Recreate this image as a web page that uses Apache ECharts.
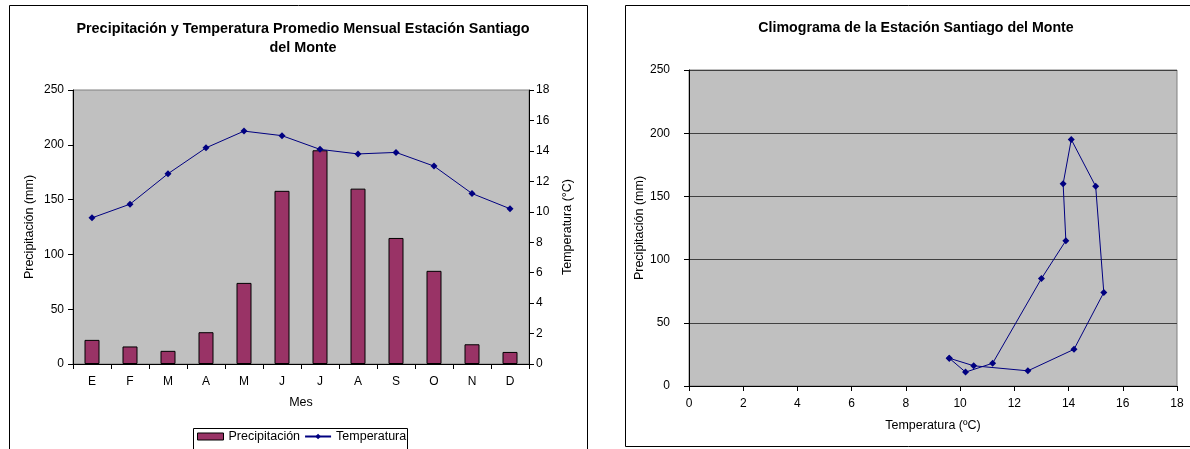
<!DOCTYPE html>
<html>
<head>
<meta charset="utf-8">
<script src="https://cdn.jsdelivr.net/npm/echarts@6/dist/echarts.min.js"></script>
<style>
  html, body { margin: 0; padding: 0; background: #fff; }
  #chart { width: 1190px; height: 449px; }
</style>
</head>
<body>
<div id="chart"></div>
<script>
// Monthly climate data, Santiago del Monte station
const meses = ['E', 'F', 'M', 'A', 'M', 'J', 'J', 'A', 'S', 'O', 'N', 'D'];
const precipitacion = [22, 16, 12, 29, 74, 158, 195, 160, 115, 85, 18, 11];
const temperatura = [9.6, 10.5, 12.5, 14.2, 15.3, 15.0, 14.1, 13.8, 13.9, 13.0, 11.2, 10.2];

// Climograph path: one point per month, closed back to January
const climograma = temperatura.map((t, i) => [t, precipitacion[i]]);
climograma.push(climograma[0]);

const FONT = "'Liberation Sans', Arial, sans-serif";
const txt = { color: '#000', fontFamily: FONT, fontSize: 12 };
const nameTxt = { color: '#000', fontFamily: FONT, fontSize: 12.5 };
const axisLine = { show: true, lineStyle: { color: '#000', width: 1 } };
const tick = { show: true, length: 5, lineStyle: { color: '#000', width: 1 } };

const chart = echarts.init(document.getElementById('chart'), null, { renderer: 'canvas' });

chart.setOption({
  animation: false,
  backgroundColor: '#fff',
  title: [
    {
      text: 'Precipitación y Temperatura Promedio Mensual Estación Santiago\ndel Monte',
      left: 298, top: 15, textAlign: 'center',
      textStyle: { fontFamily: FONT, fontSize: 14.4, fontWeight: 'bold', color: '#000', lineHeight: 19 }
    },
    {
      text: 'Climograma de la Estación Santiago del Monte',
      left: 911, top: 16, textAlign: 'center',
      textStyle: { fontFamily: FONT, fontSize: 14.2, fontWeight: 'bold', color: '#000' }
    }
  ],
  legend: {
    left: 197, top: 430, padding: 0,
    itemWidth: 26, itemHeight: 7, itemGap: 4,
    textStyle: { fontFamily: FONT, fontSize: 12.5, color: '#000' },
    data: [
      { name: 'Precipitación', icon: 'rect', itemStyle: { borderWidth: 1, borderColor: '#000' } },
      { name: 'Temperatura' }
    ]
  },
  graphic: [
    { type: 'rect', shape: { x: 9.5, y: 5.5, width: 578, height: 460 },
      style: { fill: 'none', stroke: '#000', lineWidth: 1 }, silent: true, z: -1 },
    { type: 'rect', shape: { x: 625.5, y: 5.5, width: 600, height: 441 },
      style: { fill: 'none', stroke: '#000', lineWidth: 1 }, silent: true, z: -1 },
    { type: 'rect', shape: { x: 193.5, y: 428.5, width: 214, height: 40 },
      style: { fill: 'none', stroke: '#000', lineWidth: 1 }, silent: true, z: 1 }
  ],
  grid: [
    { left: 73, top: 90, width: 456, height: 274, show: true,
      backgroundColor: '#C0C0C0', borderColor: '#808080', borderWidth: 1 },
    { left: 689, top: 70, width: 488, height: 316, show: true,
      backgroundColor: '#C0C0C0', borderColor: '#808080', borderWidth: 1 }
  ],
  xAxis: [
    {
      gridIndex: 0, type: 'category', data: meses, boundaryGap: true,
      axisLine, axisTick: { ...tick, interval: 0 },
      axisLabel: { ...txt, margin: 12, interval: 0 },
      splitLine: { show: false },
      name: 'Mes', nameLocation: 'middle', nameGap: 32,
      nameTextStyle: { ...nameTxt }
    },
    {
      gridIndex: 1, type: 'value', min: 0, max: 18, interval: 2,
      axisLine, axisTick: tick,
      axisLabel: { ...txt, margin: 12 },
      splitLine: { show: false },
      name: 'Temperatura (ºC)', nameLocation: 'middle', nameGap: 33,
      nameTextStyle: { ...nameTxt }
    }
  ],
  yAxis: [
    {
      gridIndex: 0, type: 'value', min: 0, max: 250, interval: 50,
      axisLine, axisTick: tick,
      axisLabel: { ...txt, margin: 9 },
      splitLine: { show: false },
      name: 'Precipitación (mm)', nameLocation: 'middle', nameGap: 37,
      nameTextStyle: { ...nameTxt }
    },
    {
      gridIndex: 0, type: 'value', position: 'right', min: 0, max: 18, interval: 2,
      axisLine, axisTick: tick,
      axisLabel: { ...txt, margin: 7 },
      splitLine: { show: false },
      name: 'Temperatura (°C)', nameLocation: 'middle', nameGap: 32, nameRotate: 90,
      nameTextStyle: { ...nameTxt }
    },
    {
      gridIndex: 1, type: 'value', min: 0, max: 250, interval: 50,
      axisLine, axisTick: tick,
      axisLabel: { ...txt, margin: 19 },
      splitLine: { show: true, lineStyle: { color: '#404040', width: 1 } },
      name: 'Precipitación (mm)', nameLocation: 'middle', nameGap: 36,
      nameTextStyle: { ...nameTxt }
    }
  ],
  series: [
    {
      name: 'Precipitación', type: 'bar', xAxisIndex: 0, yAxisIndex: 0,
      data: precipitacion, barWidth: 15,
      itemStyle: { color: '#993366', borderColor: '#000', borderWidth: 1 }
    },
    {
      name: 'Temperatura', type: 'line', xAxisIndex: 0, yAxisIndex: 1,
      data: temperatura, symbol: 'diamond', symbolSize: 7,
      itemStyle: { color: '#000080' },
      lineStyle: { color: '#000080', width: 1 }
    },
    {
      name: 'Climograma', type: 'line', xAxisIndex: 1, yAxisIndex: 2,
      data: climograma, symbol: 'diamond', symbolSize: 7,
      itemStyle: { color: '#000080' },
      lineStyle: { color: '#000080', width: 1 }
    }
  ]
});
</script>
</body>
</html>
